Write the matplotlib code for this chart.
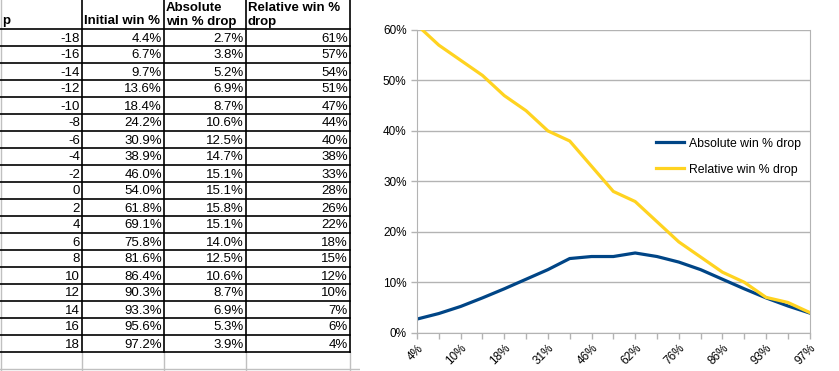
import matplotlib.pyplot as plt
from matplotlib.ticker import FuncFormatter

plt.rcParams['font.family'] = ['Liberation Sans', 'DejaVu Sans']

# Table / chart data
p_values = [-18, -16, -14, -12, -10, -8, -6, -4, -2, 0, 2, 4, 6, 8, 10, 12, 14, 16, 18]
initial_win = [4.4, 6.7, 9.7, 13.6, 18.4, 24.2, 30.9, 38.9, 46.0, 54.0,
               61.8, 69.1, 75.8, 81.6, 86.4, 90.3, 93.3, 95.6, 97.2]
absolute_drop = [2.7, 3.8, 5.2, 6.9, 8.7, 10.6, 12.5, 14.7, 15.1, 15.1,
                 15.8, 15.1, 14.0, 12.5, 10.6, 8.7, 6.9, 5.3, 3.9]
relative_drop = [61, 57, 54, 51, 47, 44, 40, 38, 33, 28,
                 26, 22, 18, 15, 12, 10, 7, 6, 4]
headers = ['p', 'Initial win %', 'Absolute\nwin % drop', 'Relative win %\ndrop']

W, H = 839, 371
fig = plt.figure(figsize=(W / 100, H / 100), dpi=100)

# ---- spreadsheet table on the left (pixel coordinates) ----
ax_t = fig.add_axes([0, 0, 360 / W, 1])
ax_t.set_xlim(0, 360)
ax_t.set_ylim(H, 0)
ax_t.axis('off')

col_edges = [0, 82, 164, 246, 350]
header_h = 29
row_h = 17
n = len(p_values)
table_bottom = header_h + row_h * n

# grey sheet gridlines
ax_t.axvline(1, color='#c0c0c0', lw=1)
for x in col_edges[1:]:
    ax_t.plot([x, x], [table_bottom, H], color='#c0c0c0', lw=1)
ax_t.plot([0, 360], [369, 369], color='#c0c0c0', lw=1)

# black table borders
for i in range(n + 1):
    y = header_h + row_h * i
    ax_t.plot([0, 350], [y, y], color='black', lw=1.2)
for x in col_edges[1:]:
    ax_t.plot([x, x], [0, table_bottom], color='black', lw=1.2)

fs = 9.5
ax_t.text(2, header_h - 2, headers[0], ha='left', va='bottom', fontsize=fs, fontweight='bold')
for j in range(1, 4):
    ax_t.text(col_edges[j] + 2, header_h - 1.5, headers[j], ha='left', va='bottom',
              fontsize=fs, fontweight='bold', linespacing=1.2)

for i in range(n):
    yc = header_h + row_h * i + row_h / 2 + 1
    cells = [f'{p_values[i]}', f'{initial_win[i]:.1f}%',
             f'{absolute_drop[i]:.1f}%', f'{relative_drop[i]}%']
    for j, s in enumerate(cells):
        ax_t.text(col_edges[j + 1] - 2, yc, s, ha='right', va='center', fontsize=fs)

# ---- line chart on the right ----
left, right, top, bottom = 417, 809.7, 30, 332.7
ax = fig.add_axes([left / W, (H - bottom) / H, (right - left) / W, (bottom - top) / H])

x = list(range(n))
ax.plot(x, absolute_drop, color='#004586', lw=2.3, label='Absolute win % drop')
ax.plot(x, relative_drop, color='#ffd320', lw=2.3, label='Relative win % drop')

ax.set_xlim(0, n - 1)
ax.set_ylim(0, 60)
ax.set_yticks(range(0, 61, 10))
ax.yaxis.set_major_formatter(FuncFormatter(lambda v, pos: f'{v:.0f}%'))
ax.set_xticks(x)
ax.set_xticklabels([f'{round(v)}%' if i % 2 == 0 else '' for i, v in enumerate(initial_win)],
                   rotation=45, ha='right', rotation_mode='anchor')
ax.grid(axis='y', color='#b3b3b3', lw=1)
ax.set_axisbelow(True)
for s in ['left', 'right', 'bottom']:
    ax.spines[s].set_color('#b3b3b3')
ax.spines['top'].set_visible(False)
ax.tick_params(axis='both', colors='#b3b3b3', labelcolor='black', labelsize=8.5,
               length=4, width=1)
ax.tick_params(axis='x', pad=3)

ax.legend(loc='upper left', bbox_to_anchor=((650 - left) / (right - left), 0.665),
          frameon=False, fontsize=8.8, handlelength=2.3, handletextpad=0.4,
          labelspacing=1.15, borderpad=0)

fig.savefig('out.png', dpi=100)
